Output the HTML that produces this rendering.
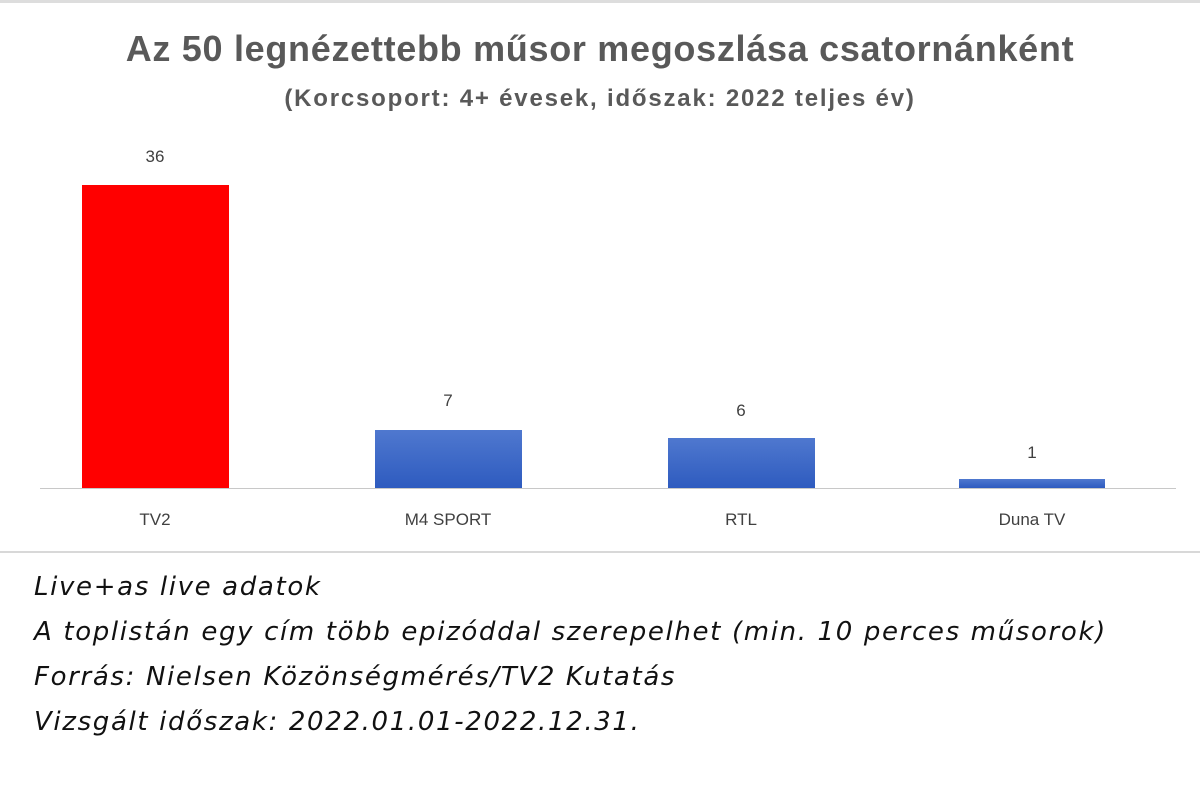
<!DOCTYPE html>
<html><head><meta charset="utf-8"><style>
body{margin:0;width:1200px;height:795px;background:#fff;position:relative;overflow:hidden;font-family:"Liberation Sans",sans-serif}
.a{position:absolute}
.t{left:0;width:1200px;text-align:center;color:#595959;font-weight:bold;white-space:nowrap}
.bar{position:absolute;background:linear-gradient(#4f78cf,#2e5bbf)}
.v,.l{position:absolute;width:150px;text-align:center;color:#404040;font-size:17px}
.f{position:absolute;left:34px;font-style:italic;font-size:26px;color:#111;font-family:"DejaVu Sans",sans-serif;letter-spacing:1.65px;white-space:nowrap}
</style></head><body>
<div class="a" style="left:0;top:0;width:1200px;height:3px;background:#ddd"></div>
<div class="a t" style="top:28px;font-size:36px;letter-spacing:0.7px">Az 50 legnézettebb műsor megoszlása csatornánként</div>
<div class="a t" style="top:85px;font-size:24px;letter-spacing:1.8px">(Korcsoport: 4+ évesek, időszak: 2022 teljes év)</div>
<div class="a" style="left:40px;top:488px;width:1136px;height:1px;background:#c8c8c8"></div>
<div class="bar" style="left:82px;top:185px;width:147px;height:303px;background:#f00"></div>
<div class="bar" style="left:375px;top:430px;width:147px;height:58px"></div>
<div class="bar" style="left:668px;top:438px;width:147px;height:50px"></div>
<div class="bar" style="left:959px;top:479px;width:146px;height:9px"></div>
<div class="v" style="left:80px;top:147px">36</div>
<div class="v" style="left:373px;top:391px">7</div>
<div class="v" style="left:666px;top:401px">6</div>
<div class="v" style="left:957px;top:443px">1</div>
<div class="l" style="left:80px;top:510px">TV2</div>
<div class="l" style="left:373px;top:510px">M4 SPORT</div>
<div class="l" style="left:666px;top:510px">RTL</div>
<div class="l" style="left:957px;top:510px">Duna TV</div>
<div class="a" style="left:0;top:551px;width:1200px;height:2px;background:#d8d8d8"></div>
<div class="f" style="top:572px">Live+as live adatok</div>
<div class="f" style="top:617px">A toplistán egy cím több epizóddal szerepelhet (min. 10 perces műsorok)</div>
<div class="f" style="top:662px">Forrás: Nielsen Közönségmérés/TV2 Kutatás</div>
<div class="f" style="top:707px">Vizsgált időszak: 2022.01.01-2022.12.31.</div>
</body></html>
